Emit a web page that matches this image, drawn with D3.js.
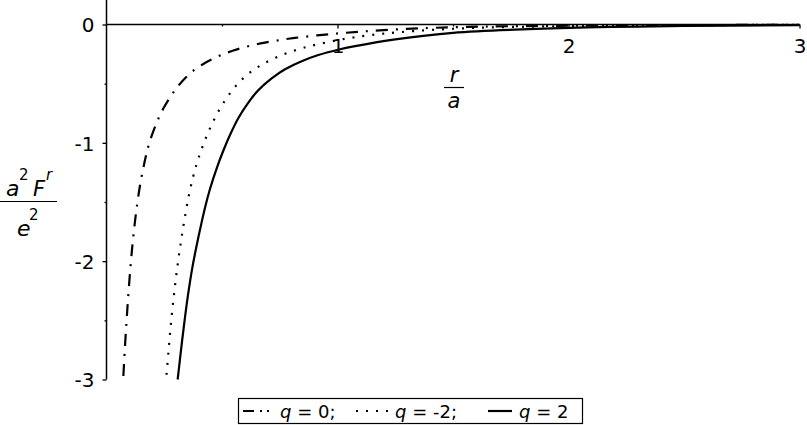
<!DOCTYPE html>
<html>
<head>
<meta charset="utf-8">
<script src="https://cdn.jsdelivr.net/npm/d3@7"></script>
<style>
  html, body { margin: 0; padding: 0; background: #fff; }
  svg { display: block; font-family: "DejaVu Sans", sans-serif; }
</style>
</head>
<body>
<div id="chart"></div>
<script>
// radial self-force curves, [r/a, a^2 F^r / e^2]
const qZeroCurve = [
  [0.073, -2.97], [0.080, -2.72], [0.087, -2.50], [0.094, -2.30], [0.102, -2.09],
  [0.110, -1.91], [0.120, -1.72], [0.132, -1.53], [0.146, -1.35], [0.165, -1.16],
  [0.184, -1.01], [0.217, -0.83], [0.246, -0.71], [0.282, -0.595], [0.304, -0.535],
  [0.340, -0.455], [0.372, -0.397], [0.426, -0.325], [0.491, -0.262], [0.549, -0.220],
  [0.617, -0.182], [0.686, -0.153], [0.758, -0.129], [0.816, -0.113], [0.888, -0.097],
  [0.960, -0.083], [1.030, -0.071], [1.200, -0.047], [1.500, -0.023], [2.000, -0.010],
  [2.500, -0.005], [3.000, -0.003]
];
const qMinusTwoCurve = [
  [0.260, -2.96], [0.268, -2.77], [0.276, -2.59], [0.285, -2.41], [0.294, -2.25],
  [0.304, -2.09], [0.314, -1.945], [0.325, -1.80], [0.337, -1.655], [0.354, -1.47],
  [0.372, -1.31], [0.390, -1.18], [0.405, -1.09], [0.419, -1.015], [0.434, -0.940],
  [0.452, -0.860], [0.470, -0.787], [0.491, -0.712], [0.513, -0.642], [0.539, -0.570],
  [0.568, -0.502], [0.600, -0.440], [0.636, -0.385], [0.672, -0.340], [0.708, -0.302],
  [0.747, -0.268], [0.787, -0.238], [0.830, -0.210], [0.874, -0.186], [0.917, -0.166],
  [0.989, -0.137], [1.068, -0.110], [1.200, -0.077], [1.500, -0.036], [2.000, -0.013],
  [2.500, -0.006], [3.000, -0.003]
];
const qTwoCurve = [
  [0.308, -3.00], [0.318, -2.83], [0.328, -2.66], [0.340, -2.47], [0.354, -2.27],
  [0.372, -2.05], [0.390, -1.87], [0.412, -1.67], [0.428, -1.535], [0.448, -1.39],
  [0.477, -1.215], [0.506, -1.065], [0.535, -0.932], [0.571, -0.790], [0.614, -0.660],
  [0.657, -0.555], [0.715, -0.455], [0.773, -0.378], [0.845, -0.310], [0.917, -0.258],
  [1.003, -0.213], [1.076, -0.183], [1.250, -0.125], [1.500, -0.070], [2.000, -0.028],
  [2.500, -0.012], [3.000, -0.006]
];

const xTicks = [1, 2, 3];
const xTickLabels = ["1", "2", "3"];
const xMinorTicks = [0.5, 1.5, 2.5];
const yTicks = [0, -1, -2, -3];
const yTickLabels = ["0", "-1", "-2", "-3"];
const yMinorTicks = [-0.5, -1.5, -2.5];

const legendLabels = ["q = 0;", "q = -2;", "q = 2"];

const width = 807;
const height = 425;

const svg = d3.select("#chart").append("svg")
  .attr("width", width)
  .attr("height", height);

const x = d3.scaleLinear().domain([0, 3]).range([106.5, 799.5]);
const y = d3.scaleLinear().domain([-3, 0]).range([379.5, 24.5]);

// ---- axes ----
const gX = svg.append("g")
  .attr("transform", `translate(0,${y(0)})`)
  .call(d3.axisBottom(x).tickValues(xTicks).tickSize(4).tickPadding(10)
    .tickFormat((d, i) => xTickLabels[i]));
const gXMinor = svg.append("g")
  .attr("transform", `translate(0,${y(0)})`)
  .call(d3.axisBottom(x).tickValues(xMinorTicks).tickSize(2).tickFormat(""));

const gY = svg.append("g")
  .attr("transform", `translate(${x(0)},0)`)
  .call(d3.axisLeft(y).tickValues(yTicks).tickSize(4).tickPadding(8)
    .tickFormat((d, i) => yTickLabels[i]));
const gYMinor = svg.append("g")
  .attr("transform", `translate(${x(0)},0)`)
  .call(d3.axisLeft(y).tickValues(yMinorTicks).tickSize(2).tickFormat(""));

[gX, gXMinor, gY, gYMinor].forEach(g => {
  g.select(".domain").remove();
  g.selectAll("line").attr("stroke", "#000").attr("stroke-width", 1.3);
  g.selectAll("text")
    .attr("fill", "#000")
    .style("font-family", "'DejaVu Sans', sans-serif")
    .style("font-size", "20px");
});
gY.selectAll("text").attr("dy", "0.36em");

// axis lines
svg.append("line")
  .attr("x1", x(0)).attr("x2", x(3))
  .attr("y1", y(0)).attr("y2", y(0))
  .attr("stroke", "#000").attr("stroke-width", 1.5);
svg.append("line")
  .attr("x1", x(0)).attr("x2", x(0))
  .attr("y1", y(-3)).attr("y2", 0)
  .attr("stroke", "#000").attr("stroke-width", 1.5);

// ---- curves ----
const line = d3.line()
  .x(d => x(d[0]))
  .y(d => y(d[1]))
  .curve(d3.curveCatmullRom.alpha(0.5));

const series = [
  { data: qZeroCurve, dash: "12,8,2,8", legendDash: "11,6,2,5,2,30" },
  { data: qMinusTwoCurve, dash: "2,8", legendDash: "2,8" },
  { data: qTwoCurve, dash: null, legendDash: null }
];

series.forEach(s => {
  svg.append("path")
    .attr("d", line(s.data))
    .attr("fill", "none")
    .attr("stroke", "#000")
    .attr("stroke-width", 2.2)
    .attr("stroke-dasharray", s.dash);
});

// ---- axis titles ----
const xTitle = svg.append("g").attr("transform", "translate(454,0)");
xTitle.append("text").attr("x", 0).attr("y", 82)
  .attr("text-anchor", "middle").style("font-style", "italic").style("font-size", "21px").text("r");
xTitle.append("line").attr("x1", -10).attr("x2", 10).attr("y1", 87.5).attr("y2", 87.5)
  .attr("stroke", "#000").attr("stroke-width", 1.2);
xTitle.append("text").attr("x", 0).attr("y", 108)
  .attr("text-anchor", "middle").style("font-style", "italic").style("font-size", "21px").text("a");

const yTitle = svg.append("g");
yTitle.append("text").attr("x", 6).attr("y", 196)
  .style("font-style", "italic").style("font-size", "22px").text("a");
yTitle.append("text").attr("x", 19).attr("y", 180)
  .style("font-size", "15px").text("2");
yTitle.append("text").attr("x", 33).attr("y", 196)
  .style("font-style", "italic").style("font-size", "21px").text("F");
yTitle.append("text").attr("x", 46).attr("y", 180)
  .style("font-style", "italic").style("font-size", "15px").text("r");
yTitle.append("line").attr("x1", 0).attr("x2", 57).attr("y1", 201.5).attr("y2", 201.5)
  .attr("stroke", "#000").attr("stroke-width", 1.2);
yTitle.append("text").attr("x", 17).attr("y", 236)
  .style("font-style", "italic").style("font-size", "22px").text("e");
yTitle.append("text").attr("x", 29).attr("y", 220)
  .style("font-size", "15px").text("2");

// ---- legend ----
const legend = svg.append("g").attr("class", "legend");
legend.append("rect")
  .attr("x", 238.5).attr("y", 398.5)
  .attr("width", 344).attr("height", 25)
  .attr("fill", "#fff").attr("stroke", "#000").attr("stroke-width", 1.2);

const legendSampleX = [243, 356, 488];
const legendSampleW = [30, 32, 24];

legendLabels.forEach((label, i) => {
  legend.append("line")
    .attr("x1", legendSampleX[i]).attr("x2", legendSampleX[i] + legendSampleW[i])
    .attr("y1", 411).attr("y2", 411)
    .attr("stroke", "#000").attr("stroke-width", 2.2)
    .attr("stroke-dasharray", series[i].legendDash);
  const t = legend.append("text")
    .attr("x", legendSampleX[i] + legendSampleW[i] + 7)
    .attr("y", 418)
    .style("font-size", "18px");
  t.append("tspan").style("font-style", "italic").text(label[0]);
  t.append("tspan").text(label.slice(1));
});
</script>
</body>
</html>
